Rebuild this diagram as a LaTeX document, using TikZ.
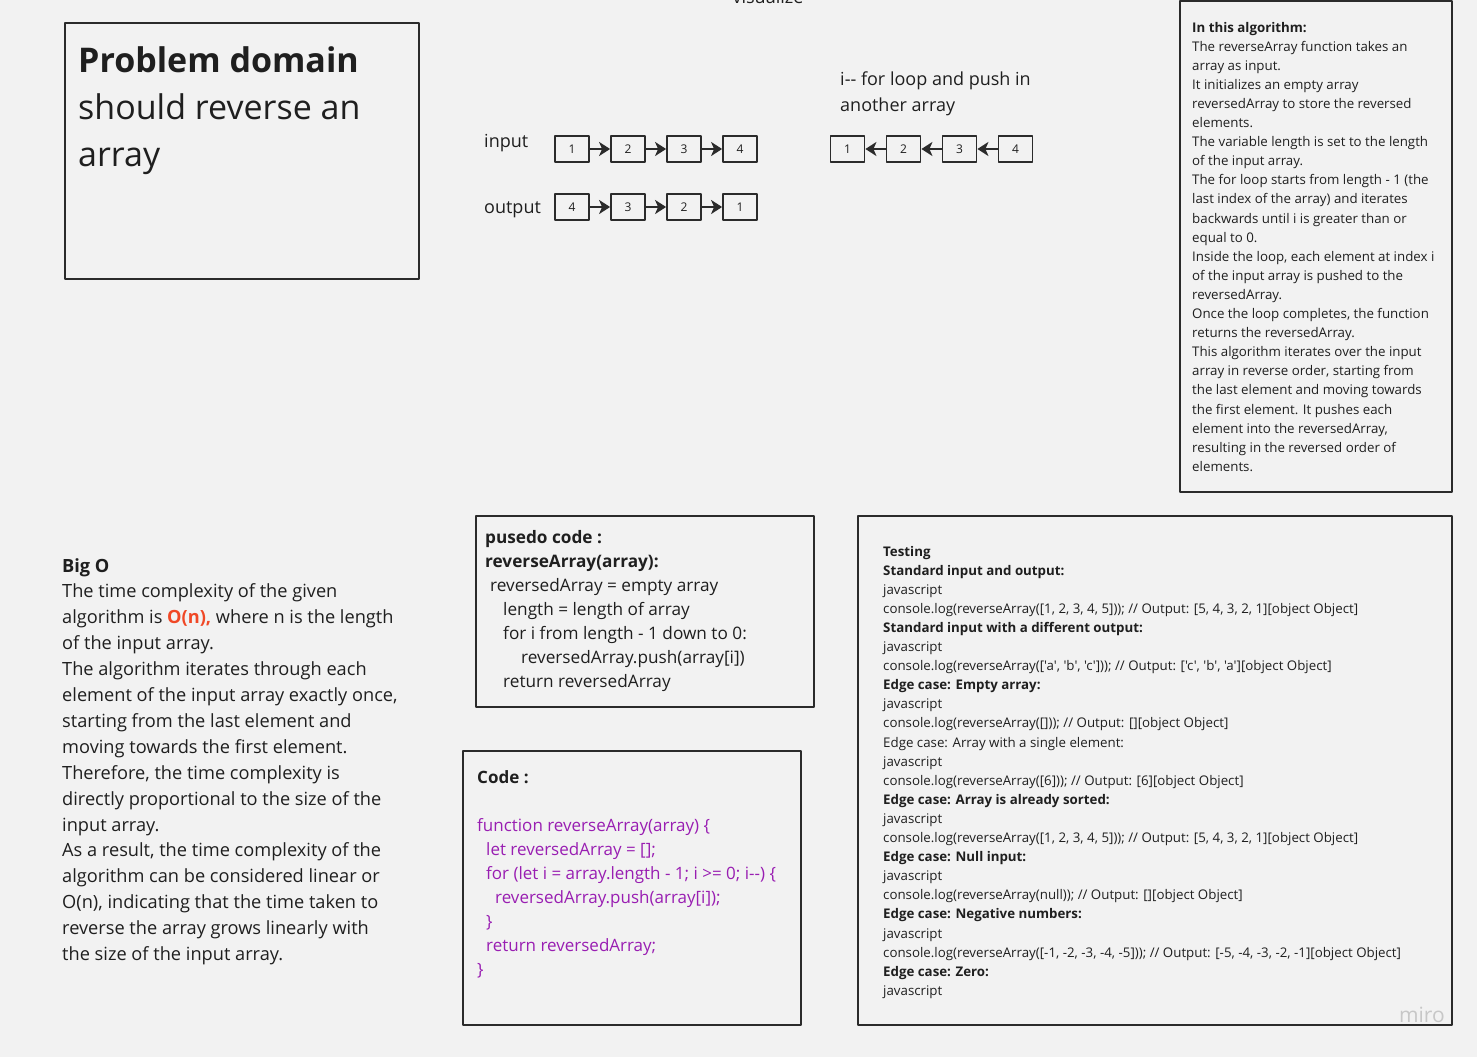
\documentclass[tikz,border=0pt]{standalone}
\usepackage{fontspec}
\setmainfont{Open Sans}[Ligatures=TeXOff]
\usetikzlibrary{arrows.meta}
\definecolor{board}{HTML}{F2F2F2}
\definecolor{ink}{HTML}{1F1F1F}
\definecolor{edge}{HTML}{2B2B2B}
\definecolor{bigo}{RGB}{240,72,38}
\definecolor{jscode}{RGB}{153,30,178}
\begin{document}
\begin{tikzpicture}[x=1pt,y=-1pt,>={Stealth[length=11pt,width=14pt,inset=3pt]}, line join=round,
	frame/.style={draw=edge,line width=2pt},
	cell/.style={draw=edge,line width=1.8pt,minimum width=34pt,minimum height=26pt,inner sep=0pt,text=ink,font=\fontsize{12}{14}\selectfont},
	link/.style={draw=edge,line width=2.2pt,->},
	txt/.style={inner sep=0pt,anchor=base west,align=left,text=ink}]
	\def\cw{56} % cell pitch
	\fill[board] (0,0) rectangle (1477,1057);
	\useasboundingbox (0,0) rectangle (1477,1057);
	% problem domain (base = last line)
	\draw[frame] (65,23) rectangle (419,279);
	\node[txt,font=\fontsize{34}{47}\selectfont] (domain) at (78,166) {\textbf{Problem domain}\\should reverse an\\array};
	% visualize
	\node[inner sep=0pt,anchor=base,text=ink,font=\fontsize{18}{26}\selectfont] (vis) at (768,4) {visualize};
	\node[txt,font=\fontsize{18}{26}\selectfont] (inlabel) at (484,147) {input};
	\node[txt,font=\fontsize{18}{26}\selectfont] (outlabel) at (484,213) {output};
	\node[txt,font=\fontsize{18}{26}\selectfont] (loopnote) at (840,111) {i-- for loop and push in\\another array};
	\foreach \v [count=\i] in {1,2,3,4} {
		\node[cell] (in\i) at ({572+\cw*(\i-1)},149) {\v};
		\node[cell] (rv\i) at ({847.5+\cw*(\i-1)},149) {\v};
	}
	\foreach \v [count=\i] in {4,3,2,1}
		\node[cell] (out\i) at ({572+\cw*(\i-1)},207) {\v};
	\foreach \i/\j in {1/2,2/3,3/4} {
		\draw[link] (in\i) -- (in\j);
		\draw[link] (out\i) -- (out\j);
		\draw[link] (rv\j) -- (rv\i);
	}
	% algorithm notes
	\draw[frame] (1180,1) rectangle (1452,492);
	\node[txt,font=\fontsize{13.3}{19.1}\selectfont] (algo) at (1192,471.3) {\textbf{In this algorithm:}\\
		The reverseArray function takes an\\array as input.\\
		It initializes an empty array\\reversedArray to store the reversed\\elements.\\
		The variable length is set to the length\\of the input array.\\
		The for loop starts from length - 1 (the\\last index of the array) and iterates\\backwards until i is greater than or\\equal to 0.\\
		Inside the loop, each element at index i\\of the input array is pushed to the\\reversedArray.\\
		Once the loop completes, the function\\returns the reversedArray.\\
		This algorithm iterates over the input\\array in reverse order, starting from\\the last element and moving towards\\the first element. It pushes each\\element into the reversedArray,\\resulting in the reversed order of\\elements.};
	% big o
	\node[txt,font=\fontsize{18.2}{25.9}\selectfont] (bigO) at (62,960.5) {\textbf{Big O}\\
		The time complexity of the given\\
		algorithm is {\bfseries\color{bigo}O(n),} where n is the length\\
		of the input array.\\
		The algorithm iterates through each\\
		element of the input array exactly once,\\
		starting from the last element and\\
		moving towards the first element.\\
		Therefore, the time complexity is\\
		directly proportional to the size of the\\
		input array.\\
		As a result, the time complexity of the\\
		algorithm can be considered linear or\\
		O(n), indicating that the time taken to\\
		reverse the array grows linearly with\\
		the size of the input array.};
	% pseudo code
	\draw[frame] (476,516) rectangle (814,707);
	\node[txt,font=\fontsize{17.2}{24}\selectfont] (pseudo) at (485,687) {\textbf{pusedo code :}\\
		\textbf{reverseArray(array):}\\
		\hspace*{5pt}reversedArray = empty array\\
		\hspace*{18pt}length = length of array\\
		\hspace*{18pt}for i from length - 1 down to 0:\\
		\hspace*{36pt}reversedArray.push(array[i])\\
		\hspace*{18pt}return reversedArray};
	% code
	\draw[frame] (463,751) rectangle (801,1025);
	\node[txt,font=\fontsize{17}{24}\selectfont] (code) at (477,975) {\textbf{Code :}\\[24pt]
		{\color{jscode}function reverseArray(array) \{}\\
		{\color{jscode}\hspace*{9pt}let reversedArray = [];}\\
		{\color{jscode}\hspace*{9pt}for (let i = array.length - 1; i >= 0; i--) \{}\\
		{\color{jscode}\hspace*{18pt}reversedArray.push(array[i]);}\\
		{\color{jscode}\hspace*{9pt}\}}\\
		{\color{jscode}\hspace*{9pt}return reversedArray;}\\
		{\color{jscode}\}}};
	% testing
	\draw[frame] (858,516) rectangle (1452,1025);
	\node[txt,font=\fontsize{13.3}{19.1}\selectfont] (tests) at (883,995.3) {\textbf{Testing}\\
		\textbf{Standard input and output:}\\
		javascript\\
		console.log(reverseArray([1, 2, 3, 4, 5])); // Output: [5, 4, 3, 2, 1][object Object]\\
		\textbf{Standard input with a different output:}\\
		javascript\\
		console.log(reverseArray(['a', 'b', 'c'])); // Output: ['c', 'b', 'a'][object Object]\\
		\textbf{Edge case: Empty array:}\\
		javascript\\
		console.log(reverseArray([])); // Output: [][object Object]\\
		Edge case: Array with a single element:\\
		javascript\\
		console.log(reverseArray([6])); // Output: [6][object Object]\\
		\textbf{Edge case: Array is already sorted:}\\
		javascript\\
		console.log(reverseArray([1, 2, 3, 4, 5])); // Output: [5, 4, 3, 2, 1][object Object]\\
		\textbf{Edge case: Null input:}\\
		javascript\\
		console.log(reverseArray(null)); // Output: [][object Object]\\
		\textbf{Edge case: Negative numbers:}\\
		javascript\\
		console.log(reverseArray([-1, -2, -3, -4, -5])); // Output: [-5, -4, -3, -2, -1][object Object]\\
		\textbf{Edge case: Zero:}\\
		javascript};
	\node[inner sep=0pt,anchor=base east,text=black!22,font=\fontsize{21}{24}\selectfont] (miro) at (1445,1022) {miro};
\end{tikzpicture}
\end{document}
